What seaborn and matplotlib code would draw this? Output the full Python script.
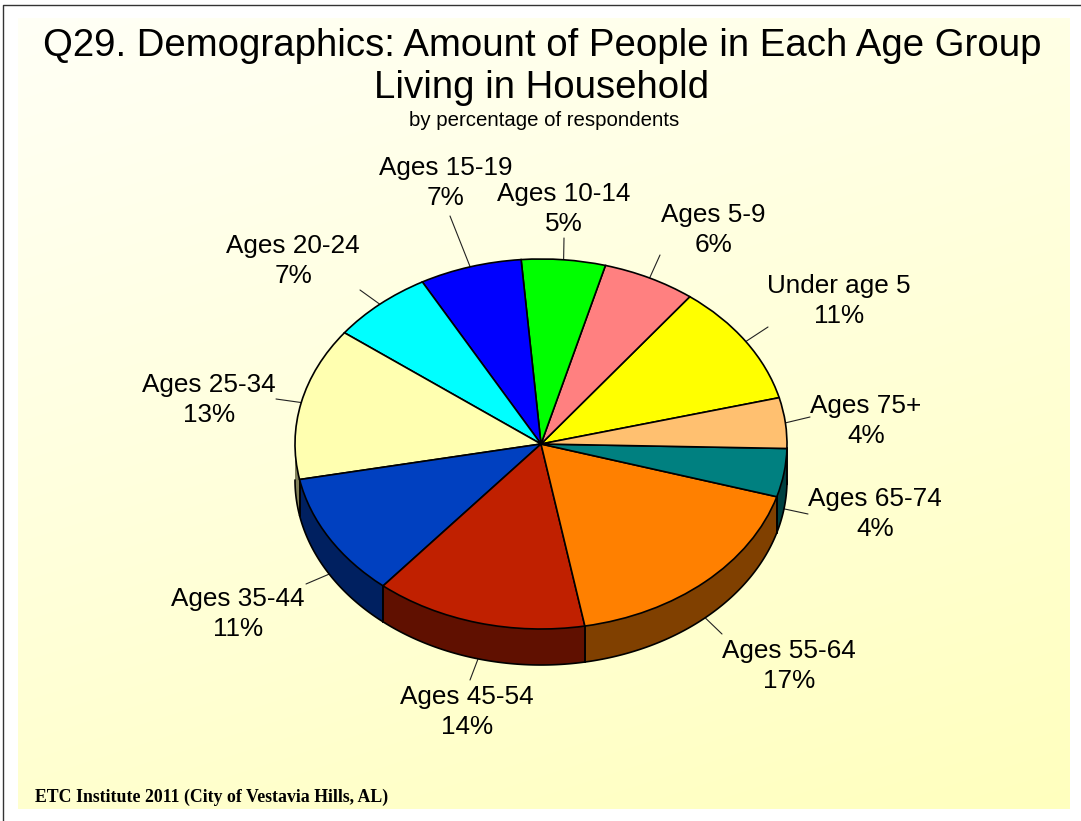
import numpy as np
import matplotlib
matplotlib.use("Agg")
import matplotlib.pyplot as plt
import seaborn as sns

# Data
categories = ["Under age 5", "Ages 5-9", "Ages 10-14", "Ages 15-19", "Ages 20-24", "Ages 25-34",
              "Ages 35-44", "Ages 45-54", "Ages 55-64", "Ages 65-74", "Ages 75+"]
values = [10.6, 6.1, 5.49, 6.7, 6.7, 13.3, 10.8, 13.9, 17.49, 4.2, 4.4]
value_labels = ["11%", "6%", "5%", "7%", "7%", "13%", "11%", "14%", "17%", "4%", "4%"]
title_lines = "Q29. Demographics: Amount of People in Each Age Group\nLiving in Household"
subtitle = "by percentage of respondents"
footer = "ETC Institute 2011 (City of Vestavia Hills, AL)"

# Styles and layout (pixel space of the picture)
slice_hex = ["#FFFF00", "#FF8080", "#00FF00", "#0000FF", "#00FFFF", "#FFFFB0",
             "#0040C0", "#C02000", "#FF8000", "#008080", "#FFC070"]
label_pos = [(839, 301), (713, 230), (564, 209), (446, 183), (293, 261), (209, 400),
             (238, 614), (467, 712), (789, 666), (875, 514), (866, 421)]
leader_end = [(768, 327), (660, 255), (564, 238), (450, 216), (360, 290), (276, 399),
              (306, 584), (470, 680), (722, 634), (808, 514), (810, 417)]
W, H = 1081, 821
cx, cy, rx, ry, depth_px = 541, 444, 246, 185, 36
start_angle = 14.5

sns.set_theme(style="white")
plt.rcParams["font.family"] = ["Liberation Sans", "DejaVu Sans"]
palette = sns.color_palette(slice_hex)
dark_palette = [tuple(c * 0.5 for c in col) for col in palette]

fig = plt.figure(figsize=(W / 100, H / 100), dpi=100, facecolor="white")

# Base layer: pixel-space axes with gradient panel
base = fig.add_axes([0, 0, 1, 1], zorder=0)
base.set_xlim(0, W)
base.set_ylim(H, 0)
base.axis("off")
gx, gy = np.meshgrid(np.linspace(0, 1, 300), np.linspace(0, 1, 300))
t = (gx * 0.3 + gy * 0.7)[..., None]
c0 = np.array([255, 255, 246]) / 255
c1 = np.array([255, 255, 190]) / 255
base.imshow(c0 + (c1 - c0) * t, extent=(18, 1070, 809, 18), aspect="auto", zorder=0, interpolation="bilinear")
base.set_xlim(0, W)
base.set_ylim(H, 0)
base.plot([3, 3, W], [H, 5, 5], color="#333333", lw=1.0, zorder=1, clip_on=False)

# Pie: own axes stretched to the ellipse
pie_ax = fig.add_axes([(cx - rx) / W, 1 - (cy + ry) / H, 2 * rx / W, 2 * ry / H], zorder=1)
depth = depth_px / ry
total = sum(values)
edges = start_angle + np.concatenate([[0], np.cumsum(values)]) / total * 360
edge_lw = 1.2

# Side wall built from the same wedge angles
for i, col in enumerate(dark_palette):
    for shift in (0, 360):
        a0 = max(edges[i], 180 + shift)
        a1 = min(edges[i + 1], 360 + shift)
        if a1 <= a0:
            continue
        th = np.radians(np.linspace(a0, a1, 120))
        xs = np.cos(th)
        ys = np.sin(th)
        pie_ax.fill(np.r_[xs, xs[::-1]], np.r_[ys, ys[::-1] - depth], facecolor=col,
                    edgecolor="none", clip_on=False, zorder=1)
        pie_ax.plot(xs, ys - depth, color="black", lw=edge_lw, clip_on=False, zorder=2)
        for a in (a0, a1):
            if 180 < a % 360 < 360:
                r = np.radians(a)
                pie_ax.plot([np.cos(r)] * 2, [np.sin(r), np.sin(r) - depth], color="black",
                            lw=edge_lw, clip_on=False, zorder=2)

wedges, _ = pie_ax.pie(values, colors=palette, startangle=start_angle, counterclock=True, radius=1.0,
                       wedgeprops=dict(edgecolor="black", linewidth=edge_lw, clip_on=False, zorder=3))
pie_ax.set_aspect("auto")
pie_ax.set_xlim(-1, 1)
pie_ax.set_ylim(-1, 1)
pie_ax.axis("off")

# Labels and leader lines
for i, name in enumerate(categories):
    mid = np.radians((edges[i] + edges[i + 1]) / 2)
    sx = cx + rx * np.cos(mid)
    sy = cy - ry * np.sin(mid)
    if np.sin(mid) < 0:
        sy += depth_px
    base.plot([sx, leader_end[i][0]], [sy, leader_end[i][1]], color="#222222", lw=0.8, zorder=2)
    base.text(label_pos[i][0], label_pos[i][1], f"{name}\n{value_labels[i]}", ha="center", va="center",
              fontsize=18.8, color="black", linespacing=1.33, zorder=5)

base.text(542, 67, title_lines, ha="center", va="center", fontsize=27.6, color="black", linespacing=1.24, zorder=5)
base.text(544, 121, subtitle, ha="center", va="center", fontsize=14.7, color="black", zorder=5)
base.text(35, 797, footer, ha="left", va="center", fontsize=12.75, fontweight="bold",
          family=["Liberation Serif", "DejaVu Serif"], color="black", zorder=5)

fig.savefig("out.png", dpi=100, facecolor="white")
